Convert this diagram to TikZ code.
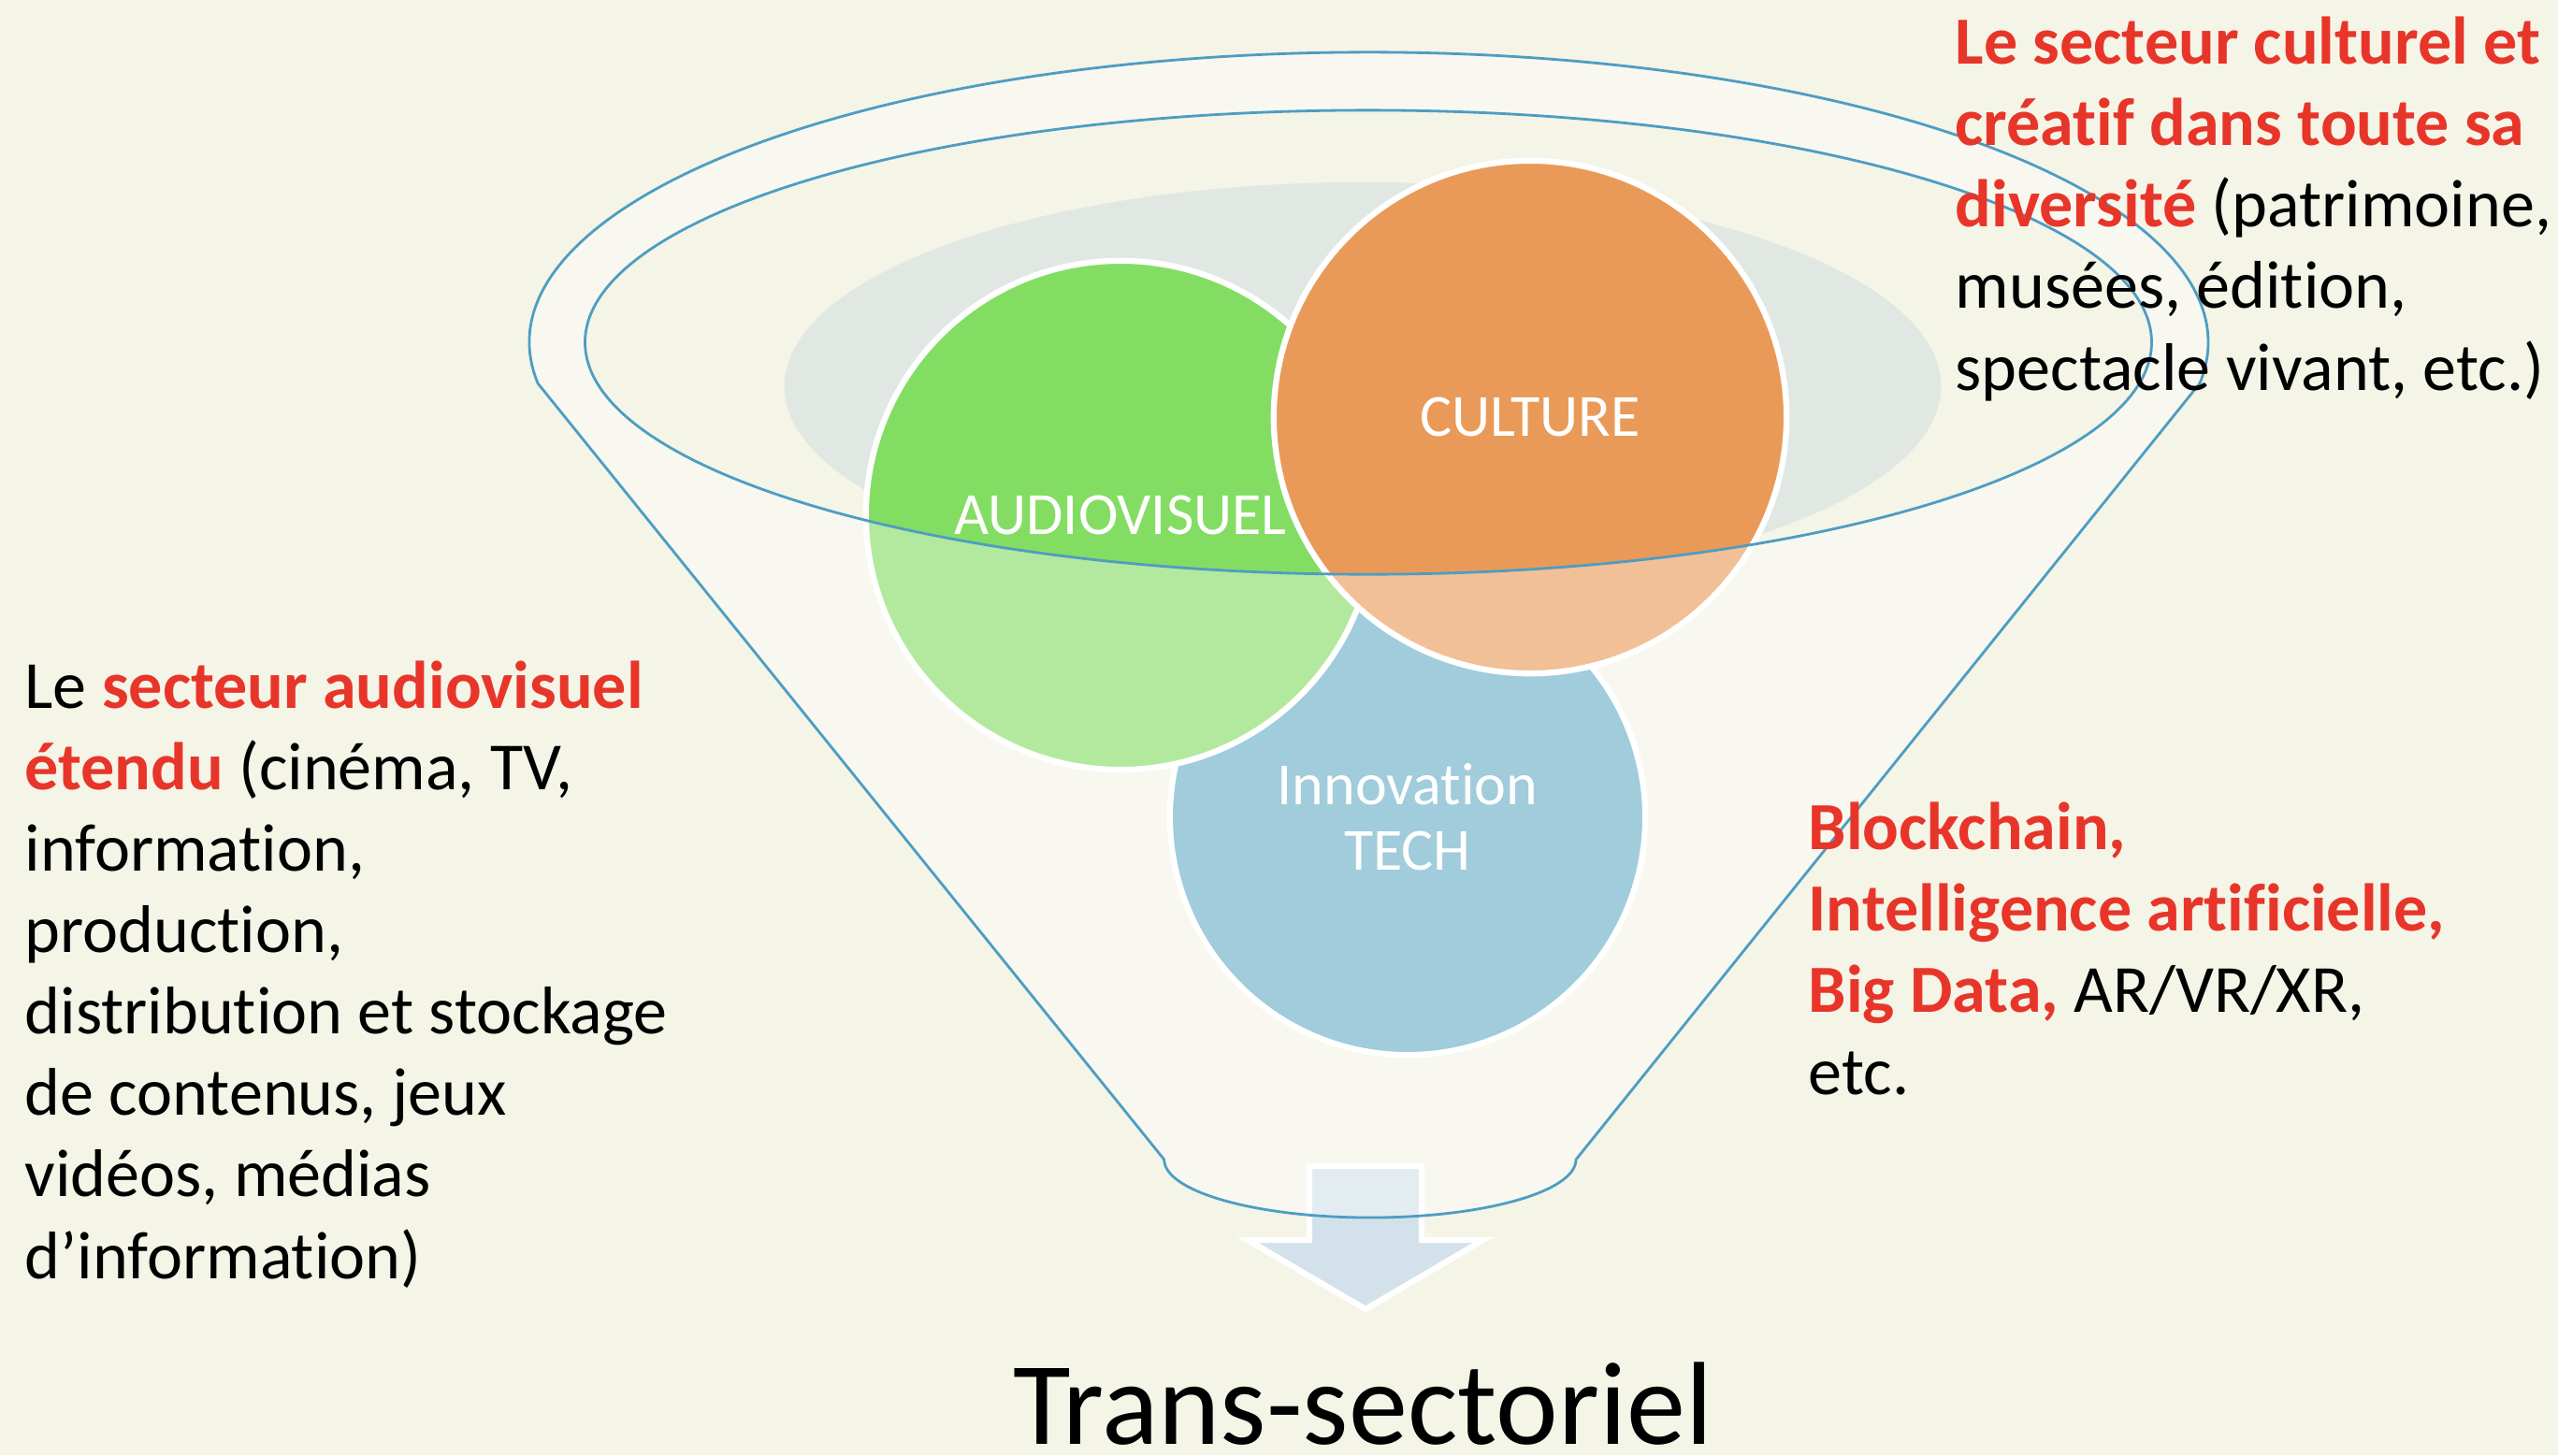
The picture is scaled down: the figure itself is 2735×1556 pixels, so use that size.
\documentclass[tikz,border=0pt]{standalone}
\usepackage{fontspec}
\setmainfont[Ligatures=NoCommon]{Carlito}
\definecolor{bg}{HTML}{F4F4E7}
\definecolor{rimline}{HTML}{4E9DC2}
\definecolor{grayell}{HTML}{E1E8E3}
\definecolor{avgreen}{HTML}{84DD63}
\definecolor{culorange}{HTML}{E99A58}
\definecolor{techblue}{HTML}{66ADC5}
\definecolor{arrowblue}{HTML}{D3E2EA}
\definecolor{hired}{HTML}{E8352A}
\tikzset{
  vcirc/.style={circle, draw=white, line width=1.8pt, inner sep=0pt, text=white,
    font=\fontsize{18.2pt}{19.9pt}\selectfont},
  funnelline/.style={draw=rimline, line width=0.8pt},
  bodytext/.style={anchor=base west, align=left, inner sep=0pt,
    font=\fontsize{20.5pt}{24.75pt}\selectfont},
  arrowstyle/.style={fill=arrowblue, draw=white, line width=1.8pt, line join=miter}
}
\newcommand{\hlt}[1]{{\bfseries\color{hired}#1}}
\begin{document}
\begin{tikzpicture}[x=0.01cm,y=-0.01cm]
\useasboundingbox (0,0) rectangle (2735,1556);
\fill[bg] (0,0) rectangle (2735,1556);

% funnel key points
\coordinate (fc) at (1463,366);
\coordinate (fl) at ({1463+897*cos(188.16)},{366-310*sin(188.16)});
\coordinate (fr) at ({1463+897*cos(-8.16)},{366-310*sin(-8.16)});
\coordinate (bl) at (1245,1240);
\coordinate (br) at (1685,1240);

% arrow below the funnel
\draw[arrowstyle] (1400,1247) -- (1520,1247) -- (1520,1326) -- (1586,1326) -- (1460,1400)
  -- (1334,1326) -- (1400,1326) -- cycle;

% grey halo
\fill[grayell] (1457,413) ellipse[x radius=6.18cm, y radius=2.18cm];

% circles
\node[vcirc, fill=techblue, minimum size=5.08cm, align=center] (tech) at (1505,874) {Innovation\\TECH};
\node[vcirc, fill=avgreen, minimum size=5.44cm] (av) at (1198,551) {AUDIOVISUEL};
\node[vcirc, fill=culorange, minimum size=5.48cm] (cul) at (1636,446) {CULTURE};

% translucent funnel front
\fill[white, fill opacity=0.38, even odd rule]
  (fl) arc[start angle=188.16, end angle=-8.16, x radius=8.97cm, y radius=3.10cm]
  -- (br) arc[start angle=0, end angle=-180, x radius=2.2cm, y radius=0.62cm] -- cycle
  (fc) ellipse[x radius=8.37cm, y radius=2.48cm];

% funnel outlines
\draw[funnelline]
  (fl) arc[start angle=188.16, end angle=-8.16, x radius=8.97cm, y radius=3.10cm]
  -- (br) arc[start angle=0, end angle=-180, x radius=2.2cm, y radius=0.62cm] -- cycle;
\draw[funnelline] (fc) ellipse[x radius=8.37cm, y radius=2.48cm];

% texts (base anchor = baseline of the last line)
\node[bodytext] (lefttxt) at (26,1367) {Le \hlt{secteur audiovisuel}\\
\hlt{étendu} (cinéma, TV,\\
information,\\
production,\\
distribution et stockage\\
de contenus, jeux\\
vidéos, médias\\
d’information)};

\node[bodytext] (culttxt) at (2090,417) {\hlt{Le secteur culturel et}\\
\hlt{créatif dans toute sa}\\
\hlt{diversité} (patrimoine,\\
musées, édition,\\
spectacle vivant, etc.)};

\node[bodytext] (techtxt) at (1933,1170) {\hlt{Blockchain,}\\
\hlt{Intelligence artificielle,}\\
\hlt{Big Data,} AR/VR/XR,\\
etc.};

\node[anchor=base, inner sep=0pt, font=\fontsize{35.9pt}{43pt}\selectfont] (trans) at (1457,1544) {Trans-sectoriel};
\end{tikzpicture}
\end{document}
